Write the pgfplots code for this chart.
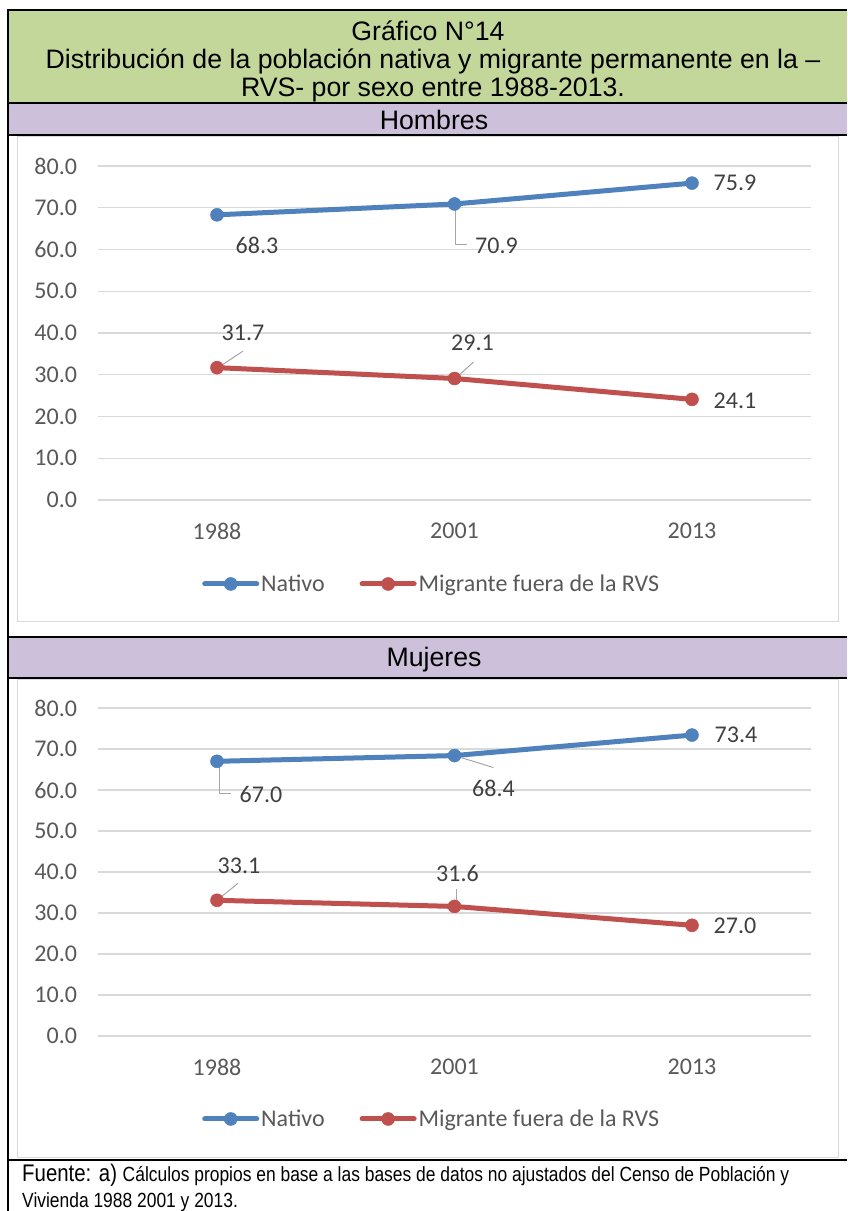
\documentclass[border=0pt]{standalone}
\usepackage{fontspec}
\setmainfont{Liberation Sans}
\newfontfamily\calib{Carlito}
\newfontfamily\narrowf{Liberation Sans}[FakeStretch=0.85]
\usepackage{pgfplots}
\pgfplotsset{compat=1.18}
\definecolor{ngreen}{HTML}{C4D79B}
\definecolor{npurple}{HTML}{CCC0DA}
\definecolor{nblue}{HTML}{4F81BD}
\definecolor{nred}{HTML}{C0504D}
\definecolor{gridg}{HTML}{D9D9D9}
\definecolor{tickg}{HTML}{595959}
\definecolor{labg}{HTML}{404040}
\definecolor{leadg}{HTML}{A6A6A6}
\tikzset{
  lab/.style={font=\calib\fontsize{24}{28}\selectfont, text=labg, inner sep=0pt},
  lead/.style={leadg, line width=1pt},
  ttl/.style={font=\fontsize{26.7}{28}\selectfont, anchor=base, inner sep=0pt},
}
\pgfplotsset{
  excel/.style={
    scale only axis, width=712.5pt,
    xmin=-0.5, xmax=2.5, ymin=0, ymax=80,
    xtick={0,1,2}, xticklabels={1988,2001,2013},
    ytick={0,10,...,80},
    /pgf/number format/assume math mode=true,
    yticklabel style={/pgf/number format/fixed, /pgf/number format/fixed zerofill, /pgf/number format/precision=1, anchor=east, inner sep=0pt, xshift=-21pt},
    xticklabel style={anchor=center, inner sep=0pt, yshift=-31pt},
    tick label style={font=\calib\fontsize{24}{28}\selectfont, text=tickg},
    axis line style={draw=none}, tick style={draw=none}, major tick length=0pt,
    ymajorgrids, grid style={gridg, line width=1.3pt},
    clip=false,
    legend columns=2,
    legend cell align=left,
    legend style={draw=none, fill=none, font=\calib\fontsize{24}{28}\selectfont, text=tickg,
      /tikz/every even column/.append style={column sep=33pt}},
    legend image code/.code={\draw[mark repeat=2,mark phase=2,##1] plot coordinates {(0pt,0pt) (26pt,0pt) (52pt,0pt)};},
  },
  serie/.style={line width=5pt, line join=round, line cap=round, mark=*, mark size=6.5pt,
    mark options={solid, line width=0.5pt, fill=#1, draw=#1}, color=#1},
}
\begin{document}
\begin{tikzpicture}[x=1pt,y=1pt]
\path[use as bounding box, fill=white] (0,0) rectangle (847,1211);
% header boxes
\fill[ngreen] (8,1201) rectangle (847,1108);
\fill[npurple] (8,1108) rectangle (847,1076);
\fill[npurple] (8,574) rectangle (847,533);
% chart frames
\draw[gridg, line width=1pt] (17,1074) rectangle (838,589);
\draw[gridg, line width=1pt] (17,531) rectangle (838,53);
% black rules
\draw[black, line width=2pt] (8,1201) -- (847,1201);
\draw[black, line width=2pt] (8,1108) -- (847,1108);
\draw[black, line width=2pt] (8,1076) -- (847,1076);
\draw[black, line width=1.5pt] (8,574) -- (847,574);
\draw[black, line width=2pt] (8,533) -- (847,533);
\draw[black, line width=2pt] (8,51) -- (847,51);
\draw[black, line width=2pt] (8,1202) -- (8,0);
% texts
\node[ttl] at (428,1170) {Gráfico N°14};
\node[ttl] at (433,1142) {Distribución de la población nativa y migrante permanente en la –};
\node[ttl] at (433,1114) {RVS- por sexo entre 1988-2013.};
\node[ttl] at (434,1081.5) {Hombres};
\node[ttl] at (434,544.5) {Mujeres};
\node[anchor=base west, inner sep=0pt] at (22,29) {\narrowf\fontsize{24}{28}\selectfont Fuente: a) \fontsize{20.5}{25}\selectfont Cálculos propios en base a las bases de datos no ajustados del Censo de Población y};
\node[anchor=base west, inner sep=0pt] at (22,4) {\narrowf\fontsize{20.5}{25}\selectfont Vivienda 1988 2001 y 2013.};

% ---------- Hombres ----------
\begin{axis}[excel, at={(98.25pt,711pt)}, anchor=south west, height=334pt,
  legend style={at={(0.468,-0.2515)}, anchor=center}]
\addplot[serie=nblue] coordinates {(0,68.3) (1,70.9) (2,75.9)};
\addlegendentry{Nativo}
\addplot[serie=nred] coordinates {(0,31.7) (1,29.1) (2,24.1)};
\addlegendentry{Migrante fuera de la RVS}
\draw[lead] ([xshift=1pt,yshift=-6pt]axis cs:1,70.9) -- ([xshift=1pt,yshift=-41pt]axis cs:1,70.9) -- ([xshift=12pt,yshift=-41pt]axis cs:1,70.9);
\draw[lead] ([xshift=1pt]axis cs:0,31.7) -- ([xshift=26pt,yshift=16.5pt]axis cs:0,31.7);
\draw[lead] ([xshift=1pt]axis cs:1,29.1) -- ([xshift=19pt,yshift=16.5pt]axis cs:1,29.1);
\node[lab, xshift=40pt, yshift=-31pt] at (axis cs:0,68.3) {68.3};
\node[lab, xshift=42pt, yshift=-42pt] at (axis cs:1,70.9) {70.9};
\node[lab, xshift=43pt] at (axis cs:2,75.9) {75.9};
\node[lab, xshift=26pt, yshift=34.6pt] at (axis cs:0,31.7) {31.7};
\node[lab, xshift=18pt, yshift=35.5pt] at (axis cs:1,29.1) {29.1};
\node[lab, xshift=43pt, yshift=-1pt] at (axis cs:2,24.1) {24.1};
\end{axis}

% ---------- Mujeres ----------
\begin{axis}[excel, at={(98.25pt,175pt)}, anchor=south west, height=328pt,
  legend style={at={(0.468,-0.253)}, anchor=center}]
\addplot[serie=nblue] coordinates {(0,67.0) (1,68.4) (2,73.4)};
\addlegendentry{Nativo}
\addplot[serie=nred] coordinates {(0,33.1) (1,31.6) (2,27.0)};
\addlegendentry{Migrante fuera de la RVS}
\draw[lead] ([xshift=2pt,yshift=-6pt]axis cs:0,67.0) -- ([xshift=2pt,yshift=-32pt]axis cs:0,67.0) -- ([xshift=14pt,yshift=-32pt]axis cs:0,67.0);
\draw[lead] (axis cs:1,68.4) -- ([xshift=39pt,yshift=-12pt]axis cs:1,68.4);
\draw[lead] (axis cs:0,33.1) -- ([xshift=21pt,yshift=17pt]axis cs:0,33.1);
\draw[lead] ([xshift=2pt,yshift=1pt]axis cs:1,31.6) -- ([xshift=2pt,yshift=17pt]axis cs:1,31.6);
\node[lab, xshift=44pt, yshift=-33pt] at (axis cs:0,67.0) {67.0};
\node[lab, xshift=39pt, yshift=-33pt] at (axis cs:1,68.4) {68.4};
\node[lab, xshift=44pt] at (axis cs:2,73.4) {73.4};
\node[lab, xshift=22pt, yshift=34pt] at (axis cs:0,33.1) {33.1};
\node[lab, xshift=3pt, yshift=33pt] at (axis cs:1,31.6) {31.6};
\node[lab, xshift=43pt, yshift=-1pt] at (axis cs:2,27.0) {27.0};
\end{axis}
\end{tikzpicture}
\end{document}
